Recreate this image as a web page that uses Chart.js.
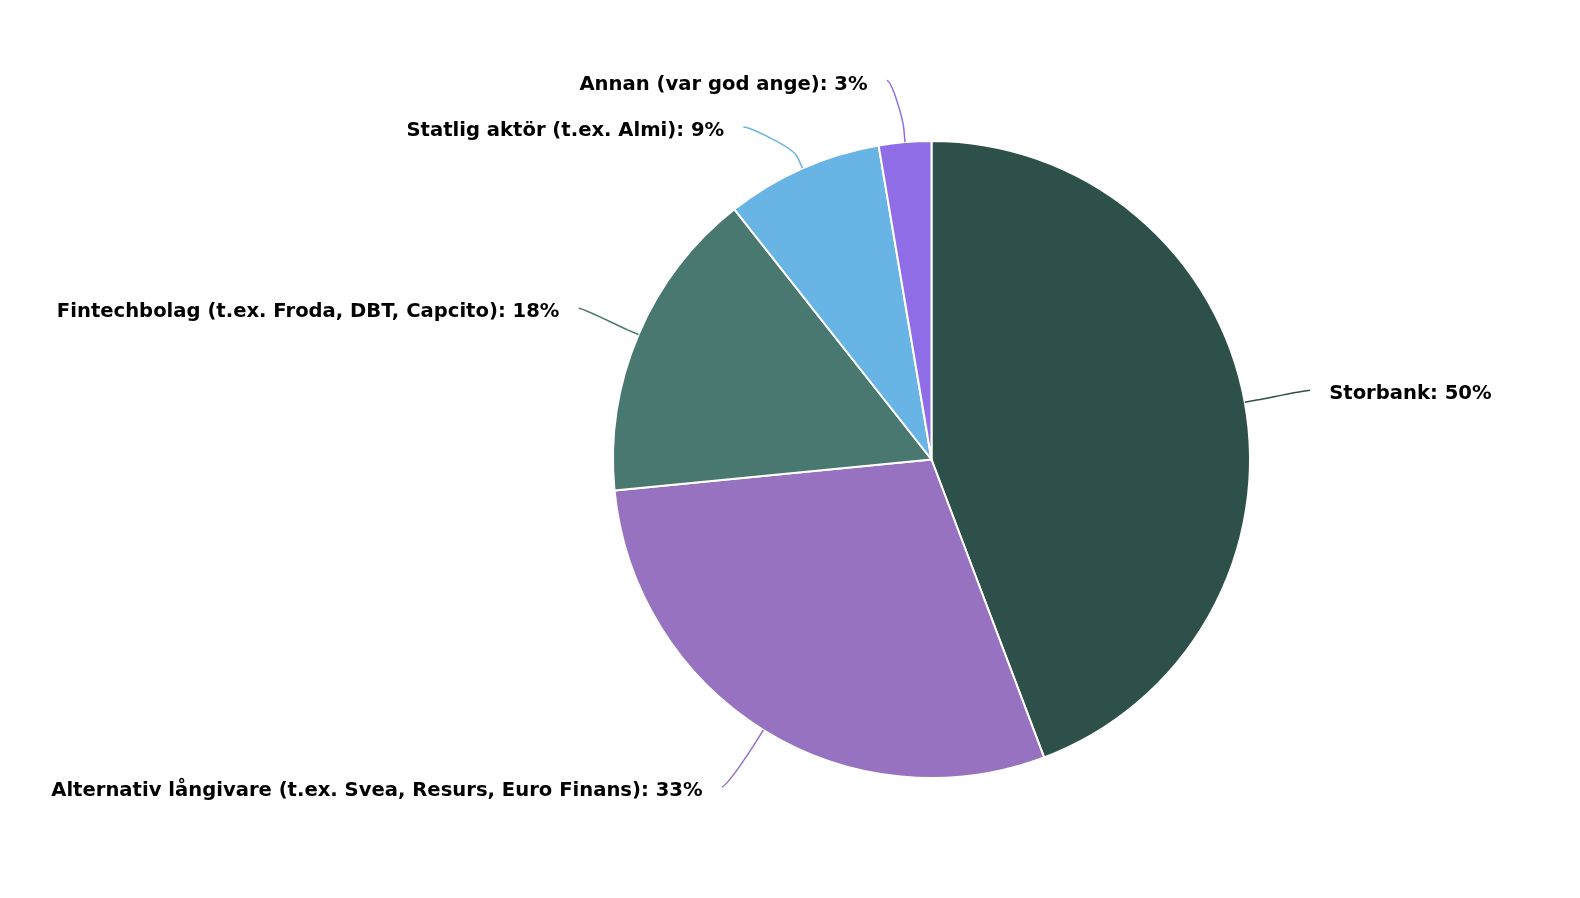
<!DOCTYPE html>
<html>
<head>
<meta charset="utf-8">
<script src="https://cdn.jsdelivr.net/npm/chart.js@4"></script>
<style>
  html, body { margin: 0; padding: 0; background: #ffffff; }
  #wrap { width: 1580px; height: 898px; position: relative; }
</style>
</head>
<body>
<div id="wrap"><canvas id="chart-pie"></canvas></div>
<script>
// Dati del grafico
const categorie = [
    'Storbank',
    'Alternativ långivare (t.ex. Svea, Resurs, Euro Finans)',
    'Fintechbolag (t.ex. Froda, DBT, Capcito)',
    'Statlig aktör (t.ex. Almi)',
    'Annan (var god ange)'
];
const valori = [50, 33, 18, 9, 3];
const colori = ['#2d504a', '#9672c0', '#487870', '#68b4e4', '#8f6de6'];

// Plugin per le etichette esterne con connettori curvi
const etichetteEsterne = {
    id: 'etichetteEsterne',
    afterDatasetsDraw(chart) {
        const ctx = chart.ctx;
        const meta = chart.getDatasetMeta(0);
        const distanza = 67;   // distanza etichetta dal bordo
        const spazio = 46.4;   // spazio minimo fra etichette
        const limiteAlto = 80.6;

        const items = meta.data.map((arc, i) => {
            const mid = (arc.startAngle + arc.endAngle) / 2;
            const cx = arc.x, cy = arc.y, r = arc.outerRadius;
            const R = r + distanza;
            return {
                i, mid, cx, cy, r, R,
                destra: Math.cos(mid) >= 0,
                y: cy + R * Math.sin(mid)
            };
        });

        // evita sovrapposizioni per lato
        [true, false].forEach(lato => {
            const gruppo = items.filter(it => it.destra === lato).sort((a, b) => a.y - b.y);
            let prev = -Infinity;
            gruppo.forEach((it, k) => {
                const y = Math.max(it.y, k === 0 ? limiteAlto : prev + spazio);
                it.y = y;
                prev = y;
            });
        });

        ctx.save();
        ctx.font = 'bold 19.6px "DejaVu Sans"';
        items.forEach(it => {
            const dy = it.y - it.cy - 4;
            const dx = Math.sqrt(Math.max(it.R * it.R - dy * dy, 0));
            const ex = it.destra ? it.cx + dx : it.cx - dx;
            const ey = it.y;
            const tx = it.cx + it.r * Math.cos(it.mid);
            const ty = it.cy + it.r * Math.sin(it.mid);
            const bx = it.cx + (it.r + 12) * Math.cos(it.mid);
            const by = it.cy + (it.r + 12) * Math.sin(it.mid);

            ctx.beginPath();
            ctx.moveTo(ex, ey);
            ctx.bezierCurveTo(ex + (it.destra ? -5 : 5), ey, 2 * bx - tx, 2 * by - ty, bx, by);
            ctx.lineTo(tx, ty);
            ctx.strokeStyle = colori[it.i];
            ctx.lineWidth = 1.5;
            ctx.stroke();

            ctx.fillStyle = '#000000';
            ctx.textBaseline = 'middle';
            ctx.textAlign = it.destra ? 'left' : 'right';
            const testo = categorie[it.i] + ': ' + valori[it.i] + '%';
            ctx.fillText(testo, ex + (it.destra ? 19.2 : -19.2), ey + 4);
        });
        ctx.restore();
    }
};

new Chart(document.getElementById('chart-pie'), {
    type: 'pie',
    data: {
        labels: categorie,
        datasets: [{
            data: valori,
            backgroundColor: colori,
            borderColor: '#ffffff',
            borderWidth: 2
        }]
    },
    options: {
        responsive: true,
        maintainAspectRatio: false,
        animation: false,
        layout: { padding: { top: 140, bottom: 119, left: 612, right: 329 } },
        plugins: {
            legend: { display: false },
            tooltip: { enabled: false }
        }
    },
    plugins: [etichetteEsterne]
});
</script>
</body>
</html>
